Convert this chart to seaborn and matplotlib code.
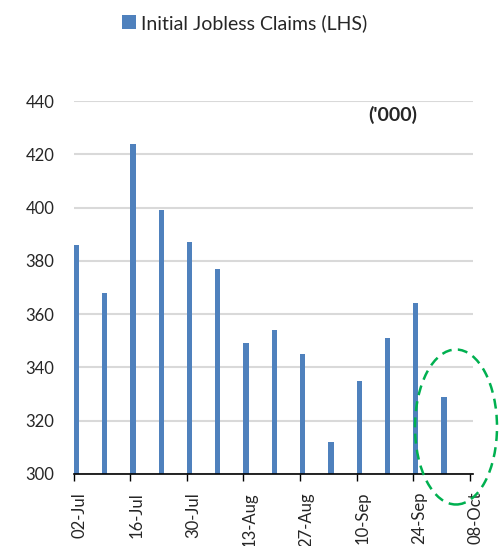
import pandas as pd
import numpy as np
import seaborn as sns
import matplotlib.pyplot as plt
import matplotlib.transforms as mtransforms
from matplotlib.patches import Ellipse, Patch

## Data
weeks = ['2023-07-02', '2023-07-09', '2023-07-16', '2023-07-23', '2023-07-30',
         '2023-08-06', '2023-08-13', '2023-08-20', '2023-08-27', '2023-09-03',
         '2023-09-10', '2023-09-17', '2023-09-24', '2023-10-01']
claims = [386, 368, 424, 399, 387, 377, 349, 354, 345, 312, 335, 351, 364, 329]
tick_labels = ['02-Jul', '16-Jul', '30-Jul', '13-Aug', '27-Aug', '10-Sep', '24-Sep', '08-Oct']

dates = pd.to_datetime(weeks)
start = dates[0]
df = pd.DataFrame({'day': (dates - start).days + 0.65, 'claims': claims})

sns.set_style('white')
plt.rcParams['font.family'] = ['Lato', 'DejaVu Sans']

fig = plt.figure(figsize=(5.02, 5.46), dpi=100)
ax = fig.add_axes([0.147, 0.132, 0.795, 0.683])

sns.barplot(data=df, x='day', y='claims', native_scale=True, color='#4F81BD',
            saturation=1, width=0.186, linewidth=0, ax=ax, zorder=3)

ax.set_ylim(300, 440)
ax.set_yticks(range(300, 441, 20))
ax.set_xlim(0, 98.8)
ax.set_xticks(range(0, 99, 14))
ax.set_xticklabels(tick_labels, rotation=90, fontsize=12)
ax.tick_params(axis='y', labelsize=12, length=0, pad=14)
ax.tick_params(axis='x', length=5, width=1, color='black', direction='out', bottom=True, pad=8)
ax.set_xlabel('')
ax.set_ylabel('')
ax.grid(axis='y', color='#D9D9D9', linewidth=1.5, zorder=0)
ax.grid(axis='x', visible=False)
for s in ['left', 'right', 'top']:
    ax.spines[s].set_visible(False)
ax.spines['bottom'].set_color('black')
ax.spines['bottom'].set_linewidth(1.2)
ax.spines['bottom'].set_zorder(4)

# Excel-style rotated labels sit a bit right of the tick
shift = mtransforms.ScaledTranslation(0.06, 0, fig.dpi_scale_trans)
for lbl in ax.get_xticklabels():
    lbl.set_transform(lbl.get_transform() + shift)

ax.text(0.80, 0.962, "('000)", transform=ax.transAxes, ha='center', va='center',
        fontsize=14, fontweight='bold')

# legend
handle = Patch(facecolor='#4F81BD', edgecolor='none')
fig.legend([handle], ['Initial Jobless Claims (LHS)'], loc='center',
           bbox_to_anchor=(0.487, 0.958), frameon=False, fontsize=14,
           handlelength=0.75, handleheight=0.75, handletextpad=0.25)

# dashed highlight ellipse
ell = Ellipse((456 / 502, 1 - 427 / 546), 82 / 502, 155 / 546, transform=fig.transFigure,
              fill=False, edgecolor='#00B050', linestyle=(0, (4, 2.5)), linewidth=1.8)
fig.add_artist(ell)

fig.savefig('out.png', dpi=100)
